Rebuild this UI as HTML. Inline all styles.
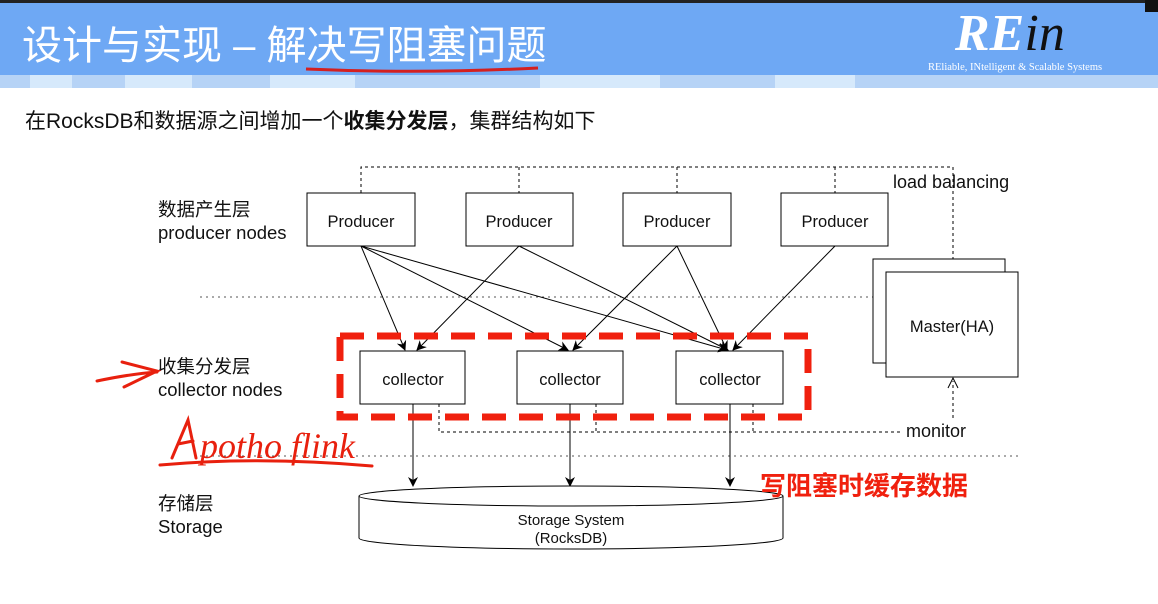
<!DOCTYPE html>
<html><head><meta charset="utf-8"><style>
body{margin:0;width:1158px;height:604px;overflow:hidden;background:#fff;font-family:"Liberation Sans","Noto Sans CJK SC",sans-serif;}
svg{position:absolute;left:0;top:0}
</style></head><body>
<svg width="1158" height="604" viewBox="0 0 1158 604" xmlns="http://www.w3.org/2000/svg" font-family="Liberation Sans, Noto Sans CJK SC, sans-serif">
<defs><marker id="a" markerWidth="10" markerHeight="10" refX="9" refY="5" orient="auto" markerUnits="userSpaceOnUse"><path d="M0,0 L10,5 L0,10 L3,5 z" fill="#000"/></marker></defs>
<rect x="0" y="0" width="1158" height="3" fill="#222"/>
<rect x="0" y="3" width="1158" height="72" fill="#6ea8f4"/>
<rect x="0" y="75" width="1158" height="13" fill="#b6d3f6"/>
<rect x="30" y="75" width="42" height="13" fill="#d6e9fb"/>
<rect x="125" y="75" width="67" height="13" fill="#d6e9fb"/>
<rect x="270" y="75" width="85" height="13" fill="#d6e9fb"/>
<rect x="540" y="75" width="120" height="13" fill="#d6e9fb"/>
<rect x="775" y="75" width="80" height="13" fill="#d6e9fb"/>
<rect x="1145" y="0" width="13" height="12" fill="#111"/>
<text x="22" y="59" font-size="40" fill="#fff" font-family="Liberation Sans, Noto Sans CJK SC, sans-serif">设计与实现 – 解决写阻塞问题</text>
<path d="M306,69 Q420,74 538,68" stroke="#d42020" stroke-width="3" fill="none"/>
<text x="955" y="50" font-size="52" font-style="italic" font-weight="bold" fill="#fff" font-family="Liberation Serif, serif">RE<tspan font-weight="normal" fill="#111">in</tspan></text>
<text x="928" y="70" font-size="10.5" fill="#fff" font-family="Liberation Serif, serif">REliable, INtelligent &amp; Scalable Systems</text>
<text x="25" y="128" font-size="21" fill="#111">在RocksDB和数据源之间增加一个<tspan font-weight="bold">收集分发层</tspan>，集群结构如下</text>

<g font-size="18.5" fill="#111">
<text x="158" y="216">数据产生层</text><text x="158" y="239">producer nodes</text>
<text x="158" y="373">收集分发层</text><text x="158" y="396">collector nodes</text>
<text x="158" y="510">存储层</text><text x="158" y="533">Storage</text>
</g>
<line x1="200" y1="297" x2="1020" y2="297" stroke="#555" stroke-dasharray="2,4"/>
<line x1="200" y1="456" x2="1020" y2="456" stroke="#555" stroke-dasharray="2,4"/>
<g stroke="#000" stroke-dasharray="3,3" fill="none">
<path d="M361,193 V167 H953 V268"/>
<line x1="519" y1="167" x2="519" y2="193"/><line x1="677" y1="167" x2="677" y2="193"/><line x1="835" y1="167" x2="835" y2="193"/>
<path d="M439,404 V432 H900"/><line x1="596" y1="404" x2="596" y2="432"/><line x1="753" y1="404" x2="753" y2="432"/>
<path d="M953,418 V381"/>
</g>
<path d="M948,262 L953,272 L958,262" fill="none" stroke="#000"/>
<path d="M948,388 L953,378 L958,388" fill="none" stroke="#000"/>
<text x="893" y="188" font-size="18" fill="#111">load balancing</text>
<text x="906" y="437" font-size="18" fill="#111">monitor</text>
<g fill="#fff" stroke="#000">
<rect x="307" y="193" width="108" height="53"/><rect x="466" y="193" width="107" height="53"/><rect x="623" y="193" width="108" height="53"/><rect x="781" y="193" width="107" height="53"/>
<rect x="360" y="351" width="105" height="53"/><rect x="517" y="351" width="106" height="53"/><rect x="676" y="351" width="107" height="53"/>
<rect x="873" y="259" width="132" height="104"/><rect x="886" y="272" width="132" height="105"/>
</g>
<g font-size="16.5" fill="#111" text-anchor="middle">
<text x="361" y="227">Producer</text><text x="519" y="227">Producer</text><text x="677" y="227">Producer</text><text x="835" y="227">Producer</text>
<text x="413" y="385">collector</text><text x="570" y="385">collector</text><text x="730" y="385">collector</text>
<text x="952" y="332">Master(HA)</text>
</g>
<g stroke="#000" marker-end="url(#a)">
<line x1="361" y1="246" x2="405" y2="350"/><line x1="361" y1="246" x2="568" y2="350"/><line x1="361" y1="246" x2="727" y2="350"/>
<line x1="519" y1="246" x2="417" y2="350"/><line x1="519" y1="246" x2="728" y2="350"/>
<line x1="677" y1="246" x2="573" y2="350"/><line x1="677" y1="246" x2="727" y2="350"/>
<line x1="835" y1="246" x2="733" y2="350"/>
<line x1="413" y1="404" x2="413" y2="486"/><line x1="570" y1="404" x2="570" y2="486"/><line x1="730" y1="404" x2="730" y2="486"/>
</g>
<rect x="340" y="336" width="468" height="81" fill="none" stroke="#f0200e" stroke-width="7" stroke-dasharray="24,13"/>
<path d="M359,496 V538 A212,11 0 0 0 783,538 V496" fill="#fff" stroke="#000"/>
<ellipse cx="571" cy="496" rx="212" ry="10" fill="#fff" stroke="#000"/>
<text x="571" y="525" font-size="15" text-anchor="middle" fill="#111">Storage System</text>
<text x="571" y="543" font-size="15" text-anchor="middle" fill="#111">(RocksDB)</text>
<text x="760" y="495" font-size="26" font-weight="bold" fill="#f0200e">写阻塞时缓存数据</text>
<g stroke="#e8200e" stroke-width="3" fill="none" stroke-linecap="round">
<path d="M97,381 Q130,374 157,372 M122,362 L157,371 L124,387"/>
<path d="M160,465 Q260,456 372,466"/>
<path d="M172,458 L188,420 L196,458 M178,444 L193,441"/>
<text x="200" y="458" font-size="36" font-style="italic" fill="#e8200e" stroke="none" font-family="Liberation Serif, serif">potho flink</text>
</g>
</svg>
</body></html>
